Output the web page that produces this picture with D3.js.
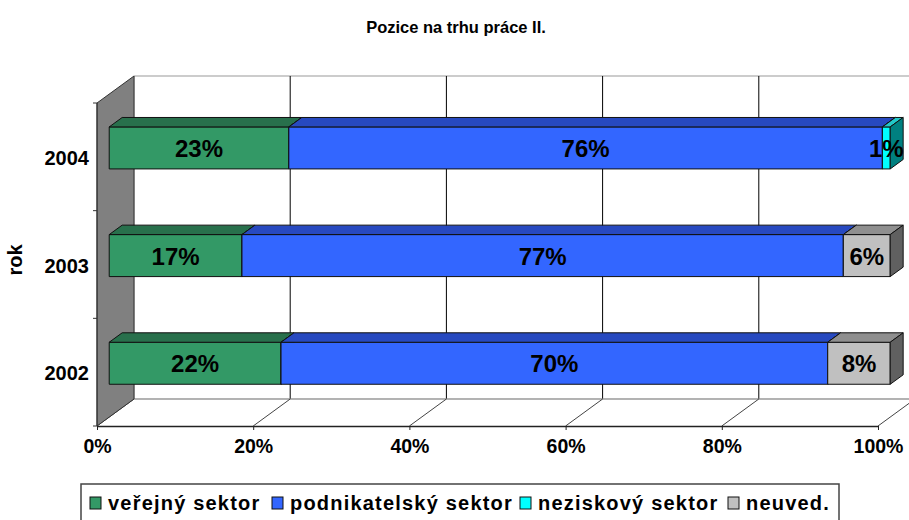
<!DOCTYPE html>
<html>
<head>
<meta charset="utf-8">
<script src="https://cdn.jsdelivr.net/npm/d3@7"></script>
<style>
  body { margin: 0; background: #fff; }
  text { font-family: "Liberation Sans", Arial, sans-serif; font-weight: bold; }
</style>
</head>
<body>
<div id="viz"></div>
<script>
// data
const years = ["2004", "2003", "2002"];
const seriesNames = ["veřejný sektor", "podnikatelský sektor", "neziskový sektor", "neuved."];
const verejny = [23, 17, 22];
const podnikatelsky = [76, 77, 70];
const neziskovy = [1, 0, 0];
const neuvedeno = [0, 6, 8];
const xTicks = [0, 20, 40, 60, 80, 100];

const colors = [
    {front: "#339966", top: "#28704c", side: "#1d5237"},
    {front: "#3366ff", top: "#2749c0", side: "#1a3380"},
    {front: "#00ffff", top: "#22c8c8", side: "#008080"},
    {front: "#c0c0c0", top: "#8f8f8f", side: "#606060"}
];

const W = 909, H = 520;
const x0 = 97, x1 = 878, yTop = 103, yBot = 426;
const depthX = 37, depthY = -27;   // whole depth of the 3d box
const barD0 = 0.33, barD1 = 0.68;  // bar sits between these depth fractions
const barH = 42;

const svg = d3.select("#viz").append("svg")
    .attr("width", W)
    .attr("height", H);

const x = d3.scaleLinear().domain([0, 100]).range([x0, x1]);
const y = d3.scaleBand().domain(years).range([yTop, yBot]);

// shift a point into depth d (0 = front, 1 = back)
const dp = (px, py, d) => [px + depthX * d, py + depthY * d];
const poly = pts => pts.map(p => p.join(",")).join(" ");

// back wall
svg.append("polygon")
    .attr("points", poly([dp(x0, yTop, 1), dp(x1 + 40, yTop, 1), dp(x1 + 40, yBot, 1), dp(x0, yBot, 1)]))
    .attr("fill", "#fff")
    .attr("stroke", "#999");

// gridlines on back wall
svg.selectAll(".grid")
    .data(xTicks.slice(1))
    .enter()
    .append("line")
        .attr("x1", d => dp(x(d), yTop, 1)[0])
        .attr("x2", d => dp(x(d), yBot, 1)[0])
        .attr("y1", dp(0, yTop, 1)[1])
        .attr("y2", dp(0, yBot, 1)[1])
        .attr("stroke", "#000")
        .attr("stroke-width", 1);

// floor: back edge + diagonals
svg.append("line")
    .attr("x1", dp(x0, yBot, 1)[0]).attr("y1", dp(x0, yBot, 1)[1])
    .attr("x2", dp(x1 + 40, yBot, 1)[0]).attr("y2", dp(x1 + 40, yBot, 1)[1])
    .attr("stroke", "#999");
svg.selectAll(".floor")
    .data(xTicks)
    .enter()
    .append("line")
        .attr("x1", d => x(d))
        .attr("y1", yBot)
        .attr("x2", d => dp(x(d), yBot, 1)[0])
        .attr("y2", d => dp(x(d), yBot, 1)[1])
        .attr("stroke", "#444")
        .attr("stroke-width", 1);

// left side wall
svg.append("polygon")
    .attr("points", poly([[x0, yTop], dp(x0, yTop, 1), dp(x0, yBot, 1), [x0, yBot]]))
    .attr("fill", "#808080")
    .attr("stroke", "#333")
    .attr("stroke-width", 1);

// front x axis
const xAxis = svg.append("g")
    .attr("transform", `translate(0,${yBot})`)
    .call(d3.axisBottom(x).tickValues(xTicks).tickFormat(d => d + "%").tickSize(4).tickSizeOuter(0));
xAxis.select(".domain").attr("stroke", "#222").attr("stroke-width", 1.6);
xAxis.selectAll(".tick line").attr("stroke", "#222");
xAxis.selectAll("text")
    .attr("font-size", 19.5)
    .attr("fill", "#000")
    .attr("y", 27)
    .attr("dy", 0);

// y axis: boundary ticks + labels
svg.append("line")
    .attr("x1", x0).attr("x2", x0).attr("y1", yTop).attr("y2", yBot)
    .attr("stroke", "#333");
const bounds = years.map(d => y(d)).concat([yBot]);
svg.selectAll(".ytick")
    .data(bounds)
    .enter()
    .append("line")
        .attr("x1", x0 - 4).attr("x2", x0)
        .attr("y1", d => d).attr("y2", d => d)
        .attr("stroke", "#333");
svg.selectAll(".ylab")
    .data(years)
    .enter()
    .append("text")
        .attr("x", x0 - 8)
        .attr("y", d => y(d) + y.bandwidth() / 2 + 8)
        .attr("text-anchor", "end")
        .attr("font-size", 20)
        .text(d => d);

// stack
const rows = years.map((yr, i) => ({
    year: yr,
    vals: [verejny[i], podnikatelsky[i], neziskovy[i], neuvedeno[i]]
}));
const segs = [];
rows.forEach(r => {
    let acc = 0;
    r.vals.forEach((v, k) => {
        if (v > 0) segs.push({year: r.year, k: k, start: acc, end: acc + v, value: v});
        acc += v;
    });
});

const barG = svg.append("g");
segs.forEach(s => {
    const cy = y(s.year) + y.bandwidth() / 2;
    const t = cy - barH / 2, b = cy + barH / 2;
    const a = dp(x(s.start), t, barD0), c = dp(x(s.end), b, barD0);
    const dd = barD1 - barD0;
    const xa = a[0], xc = c[0], ya = a[1], yc = c[1];
    const ox = depthX * dd, oy = depthY * dd;
    const col = colors[s.k];
    barG.append("polygon") // front
        .attr("points", poly([[xa, ya], [xc, ya], [xc, yc], [xa, yc]]))
        .attr("fill", col.front).attr("stroke", "#111").attr("stroke-width", 1);
    barG.append("polygon") // top
        .attr("points", poly([[xa, ya], [xa + ox, ya + oy], [xc + ox, ya + oy], [xc, ya]]))
        .attr("fill", col.top).attr("stroke", "#111").attr("stroke-width", 1);
    barG.append("polygon") // right side
        .attr("points", poly([[xc, ya], [xc + ox, ya + oy], [xc + ox, yc + oy], [xc, yc]]))
        .attr("fill", col.side).attr("stroke", "#111").attr("stroke-width", 1);
});

// value labels
svg.selectAll(".val")
    .data(segs)
    .enter()
    .append("text")
        .attr("x", d => dp(x((d.start + d.end) / 2), 0, barD0)[0])
        .attr("y", d => dp(0, y(d.year) + y.bandwidth() / 2, barD0)[1] + 9)
        .attr("text-anchor", "middle")
        .attr("font-size", 24)
        .attr("fill", "#000")
        .text(d => d.value + "%");

// title
svg.append("text")
    .attr("x", 456).attr("y", 33)
    .attr("text-anchor", "middle")
    .attr("font-size", 16.5)
    .text("Pozice na trhu práce II.");

// axis title
svg.append("text")
    .attr("transform", "translate(22,260)rotate(-90)")
    .attr("text-anchor", "middle")
    .attr("font-size", 20)
    .text("rok");

// legend
const legX = [90, 272, 520, 728];
const leg = svg.append("g");
leg.append("rect")
    .attr("x", 81).attr("y", 484).attr("width", 758).attr("height", 50)
    .attr("fill", "#fff").attr("stroke", "#444").attr("stroke-width", 1.5);
seriesNames.forEach((n, k) => {
    leg.append("rect")
        .attr("x", legX[k]).attr("y", 497).attr("width", 11).attr("height", 12)
        .attr("fill", colors[k].front).attr("stroke", "#111");
    leg.append("text")
        .attr("x", legX[k] + 18).attr("y", 510)
        .attr("font-size", 20)
        .attr("letter-spacing", 1.2)
        .text(n);
});
</script>
</body>
</html>
